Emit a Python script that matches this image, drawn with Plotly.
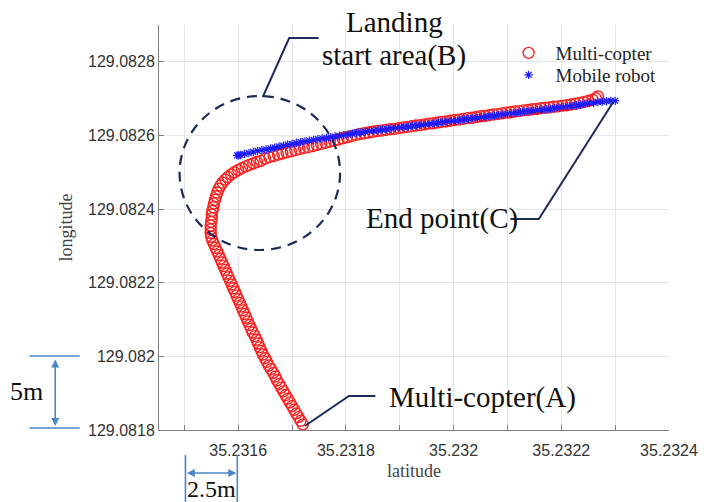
import plotly.graph_objects as go

# ---------------- data ----------------
copter_lat = [
    35.231720, 35.231716, 35.231712, 35.231708, 35.231704, 35.231700, 35.231696, 35.231692,
    35.231688, 35.231684, 35.231680, 35.231676, 35.231672, 35.231669, 35.231665, 35.231661,
    35.231657, 35.231653, 35.231650, 35.231646, 35.231643, 35.231640, 35.231637, 35.231634,
    35.231631, 35.231627, 35.231624, 35.231621, 35.231618, 35.231615, 35.231612, 35.231609,
    35.231606, 35.231603, 35.231600, 35.231597, 35.231594, 35.231591, 35.231588, 35.231585,
    35.231582, 35.231579, 35.231576, 35.231573, 35.231570, 35.231567, 35.231564, 35.231561,
    35.231558, 35.231555, 35.231552, 35.231550,
    35.231549, 35.231549, 35.231549, 35.231550, 35.231551, 35.231551, 35.231552, 35.231554,
    35.231555, 35.231557, 35.231559, 35.231561, 35.231564, 35.231567, 35.231571, 35.231576,
    35.231581, 35.231587, 35.231593, 35.231600, 35.231607, 35.231614, 35.231621, 35.231628,
    35.231635, 35.231642,
    35.231650, 35.231658, 35.231666, 35.231674, 35.231682, 35.231690, 35.231698, 35.231706,
    35.231714, 35.231722, 35.231730, 35.231738, 35.231746, 35.231754, 35.231762, 35.231770,
    35.231778, 35.231786, 35.231794, 35.231802, 35.231810, 35.231818, 35.231826, 35.231834,
    35.231842, 35.231850, 35.231858, 35.231866, 35.231874, 35.231882, 35.231890, 35.231898,
    35.231906, 35.231914, 35.231922, 35.231930, 35.231938, 35.231946, 35.231954, 35.231962,
    35.231970, 35.231978, 35.231986, 35.231994, 35.232002, 35.232010, 35.232018, 35.232026,
    35.232034, 35.232042, 35.232050, 35.232058, 35.232066, 35.232074, 35.232082, 35.232090,
    35.232098, 35.232106, 35.232114, 35.232122, 35.232130, 35.232138, 35.232146, 35.232154,
    35.232162, 35.232170, 35.232178, 35.232186, 35.232194, 35.232202, 35.232210, 35.232218,
    35.232226, 35.232234, 35.232242, 35.232250, 35.232258, 35.232264, 35.232268,
]
copter_lon = [
    129.081815, 129.081825, 129.081835, 129.081845, 129.081855, 129.081865, 129.081875, 129.081885,
    129.081895, 129.081905, 129.081915, 129.081925, 129.081935, 129.081945, 129.081955, 129.081965,
    129.081975, 129.081985, 129.081995, 129.082005, 129.082015, 129.082025, 129.082035, 129.082045,
    129.082055, 129.082065, 129.082075, 129.082085, 129.082095, 129.082105, 129.082115, 129.082125,
    129.082135, 129.082145, 129.082155, 129.082165, 129.082175, 129.082185, 129.082195, 129.082205,
    129.082215, 129.082225, 129.082235, 129.082245, 129.082255, 129.082265, 129.082275, 129.082285,
    129.082295, 129.082305, 129.082315, 129.082325,
    129.082335, 129.082345, 129.082355, 129.082365, 129.082375, 129.082385, 129.082395, 129.082405,
    129.082415, 129.082425, 129.082435, 129.082445, 129.082455, 129.082464, 129.082472, 129.082480,
    129.082487, 129.082494, 129.082500, 129.082506, 129.082511, 129.082516, 129.082520, 129.082524,
    129.082528, 129.082531,
    129.082537, 129.082541, 129.082544, 129.082548, 129.082551, 129.082554, 129.082557, 129.082560,
    129.082563, 129.082566, 129.082568, 129.082571, 129.082574, 129.082577, 129.082580, 129.082583,
    129.082586, 129.082589, 129.082592, 129.082595, 129.082598, 129.082601, 129.082604, 129.082606,
    129.082608, 129.082610, 129.082612, 129.082613, 129.082615, 129.082617, 129.082618, 129.082620,
    129.082622, 129.082623, 129.082625, 129.082627, 129.082628, 129.082630, 129.082632, 129.082633,
    129.082635, 129.082637, 129.082638, 129.082640, 129.082642, 129.082643, 129.082645, 129.082647,
    129.082648, 129.082650, 129.082652, 129.082653, 129.082655, 129.082657, 129.082658, 129.082660,
    129.082662, 129.082663, 129.082665, 129.082666, 129.082668, 129.082669, 129.082671, 129.082672,
    129.082674, 129.082675, 129.082676, 129.082678, 129.082679, 129.082681, 129.082682, 129.082684,
    129.082686, 129.082688, 129.082691, 129.082694, 129.082697, 129.082701, 129.082706,
]

robot_lat = [
    35.231598, 35.231601, 35.231604, 35.231612, 35.231620, 35.231628, 35.231636, 35.231644,
    35.231652, 35.231660, 35.231668, 35.231676, 35.231684, 35.231692, 35.231700, 35.231708,
    35.231716, 35.231724, 35.231732, 35.231740, 35.231748, 35.231756, 35.231764, 35.231772,
    35.231780, 35.231788, 35.231796, 35.231804, 35.231812, 35.231820, 35.231828, 35.231836,
    35.231844, 35.231852, 35.231860, 35.231868, 35.231876, 35.231884, 35.231892, 35.231900,
    35.231908, 35.231916, 35.231924, 35.231932, 35.231940, 35.231948, 35.231956, 35.231964,
    35.231972, 35.231980, 35.231988, 35.231996, 35.232004, 35.232012, 35.232020, 35.232028,
    35.232036, 35.232044, 35.232052, 35.232060, 35.232068, 35.232076, 35.232084, 35.232092,
    35.232100, 35.232108, 35.232116, 35.232124, 35.232132, 35.232140, 35.232148, 35.232156,
    35.232164, 35.232172, 35.232180, 35.232188, 35.232196, 35.232204, 35.232212, 35.232220,
    35.232228, 35.232236, 35.232244, 35.232252, 35.232260, 35.232268, 35.232276, 35.232284,
    35.232292, 35.232300,
]
robot_lon = [
    129.082546, 129.082546, 129.082547, 129.082550, 129.082552, 129.082555, 129.082558, 129.082560,
    129.082562, 129.082565, 129.082567, 129.082570, 129.082572, 129.082575, 129.082577, 129.082580,
    129.082582, 129.082584, 129.082586, 129.082588, 129.082590, 129.082592, 129.082593, 129.082595,
    129.082597, 129.082599, 129.082601, 129.082603, 129.082605, 129.082607, 129.082608, 129.082610,
    129.082612, 129.082613, 129.082614, 129.082616, 129.082617, 129.082619, 129.082620, 129.082622,
    129.082623, 129.082624, 129.082626, 129.082627, 129.082629, 129.082630, 129.082632, 129.082633,
    129.082635, 129.082636, 129.082638, 129.082639, 129.082640, 129.082642, 129.082644, 129.082645,
    129.082647, 129.082648, 129.082650, 129.082651, 129.082653, 129.082654, 129.082656, 129.082657,
    129.082659, 129.082660, 129.082662, 129.082663, 129.082665, 129.082666, 129.082667, 129.082669,
    129.082670, 129.082671, 129.082673, 129.082674, 129.082676, 129.082677, 129.082679, 129.082681,
    129.082682, 129.082684, 129.082686, 129.082688, 129.082689, 129.082691, 129.082692, 129.082693,
    129.082694, 129.082694,
]

x_tickvals = [35.2316, 35.2318, 35.2320, 35.2322, 35.2324]
x_ticktext = ["35.2316", "35.2318", "35.232", "35.2322", "35.2324"]
y_tickvals = [129.0818, 129.0820, 129.0822, 129.0824, 129.0826, 129.0828]
y_ticktext = ["129.0818", "129.082", "129.0822", "129.0824", "129.0826", "129.0828"]

# ---------------- layout helpers (pixel -> paper) ----------------
W, H = 710, 502
L, R, T, B = 159, 680, 25, 430


def px(x):
    return (x - L) / (R - L)


def py(y):
    return (B - y) / (B - T)


NAVY = "#1c2b5c"
DIM = "#4a86c8"
SERIF = "Liberation Serif, Times New Roman, serif"
SANS = "Liberation Sans, Arial, sans-serif"

fig = go.Figure()
fig.add_trace(go.Scatter(
    x=copter_lat, y=copter_lon, mode="markers", name="Multi-copter", legend="legend",
    marker=dict(symbol="circle-open", size=11, color="#ff1f1f",
                line=dict(width=1.4, color="#ff1f1f")),
))
fig.add_trace(go.Scatter(
    x=robot_lat, y=robot_lon, mode="markers", name="Mobile robot", legend="legend2",
    marker=dict(symbol="asterisk-open", size=7, color="#1a1aff",
                line=dict(width=1.2, color="#1a1aff")),
))

shapes = []
# landing start area circle
shapes.append(dict(type="circle", xref="paper", yref="paper",
                   x0=px(180), x1=px(344), y0=py(250), y1=py(96),
                   line=dict(color=NAVY, width=2.2, dash="10px,7px")))


def poly(points, color, width):
    d = "M " + " L ".join(f"{px(a):.5f},{py(b):.5f}" for a, b in points)
    return dict(type="path", xref="paper", yref="paper", path=d,
                line=dict(color=color, width=width))


shapes.append(poly([(265, 97), (292, 38), (322, 38)], NAVY, 2))
shapes.append(poly([(518, 219), (547, 219), (623, 102)], NAVY, 2))
shapes.append(poly([(308, 426), (353, 396), (380, 396)], NAVY, 2))
# dimension guides
shapes.append(poly([(27, 356), (78, 356)], DIM, 1.6))
shapes.append(poly([(27, 428), (78, 428)], DIM, 1.6))
shapes.append(poly([(186, 455), (186, 502)], DIM, 1.6))
shapes.append(poly([(239, 455), (239, 502)], DIM, 1.6))

annotations = []


def label(text, x, y, size, color="#111111", font=SERIF):
    annotations.append(dict(text=text, xref="paper", yref="paper", x=px(x), y=py(y),
                            xanchor="center", yanchor="middle", showarrow=False,
                            font=dict(family=font, size=size, color=color)))


label("Landing", 400, 22, 29)
label("start area(B)", 399, 55, 29)
label("End point(C)", 448, 219, 29)
label("Multi-copter(A)", 489, 397, 29)
label("5m", 24, 391, 26)
label("2.5m", 213, 489, 24)

# double arrows for the dimensions
annotations.append(dict(text="", xref="paper", yref="paper", x=px(53), y=py(426),
                        ax=0, ay=-68, showarrow=True, arrowside="end+start",
                        arrowhead=2, arrowsize=1, arrowwidth=1.6, arrowcolor=DIM))
annotations.append(dict(text="", xref="paper", yref="paper", x=px(238), y=py(473),
                        ax=-51, ay=0, showarrow=True, arrowside="end+start",
                        arrowhead=2, arrowsize=1, arrowwidth=1.6, arrowcolor=DIM))

legend_common = dict(xanchor="left", yanchor="top", bgcolor="rgba(0,0,0,0)",
                     font=dict(family=SERIF, size=19, color="#222222"),
                     itemwidth=44, borderwidth=0)

fig.update_layout(
    width=W, height=H,
    margin=dict(l=L, r=W - R, t=T, b=H - B),
    plot_bgcolor="white", paper_bgcolor="white",
    shapes=shapes, annotations=annotations,
    showlegend=True,
    legend=dict(x=px(509), y=py(34), **legend_common),
    legend2=dict(x=px(509), y=py(56), **legend_common),
    xaxis=dict(range=[35.231453, 35.2324], tickvals=x_tickvals, ticktext=x_ticktext,
               showgrid=True, gridcolor="#e6e6e6", gridwidth=1,
               showline=True, linecolor="#808080", linewidth=1,
               ticks="inside", ticklen=5, tickcolor="#808080",
               minor=dict(dtick=0.0001, tick0=35.2315, showgrid=True, gridcolor="#e6e6e6",
                          ticks="inside", ticklen=5, tickcolor="#808080"),
               tickfont=dict(family=SANS, size=16, color="#333333"),
               ticklabelstandoff=6,
               title=dict(text="latitude", font=dict(family=SERIF, size=18, color="#444444"),
                          standoff=6),
               zeroline=False),
    yaxis=dict(range=[129.0818, 129.0829], tickvals=y_tickvals, ticktext=y_ticktext,
               showgrid=True, gridcolor="#e6e6e6", gridwidth=1,
               showline=True, linecolor="#808080", linewidth=1,
               ticks="inside", ticklen=5, tickcolor="#808080",
               tickfont=dict(family=SANS, size=16, color="#333333"),
               title=dict(text="longitude", font=dict(family=SERIF, size=18, color="#444444"),
                          standoff=10),
               zeroline=False),
)

fig.write_html("out.html")
